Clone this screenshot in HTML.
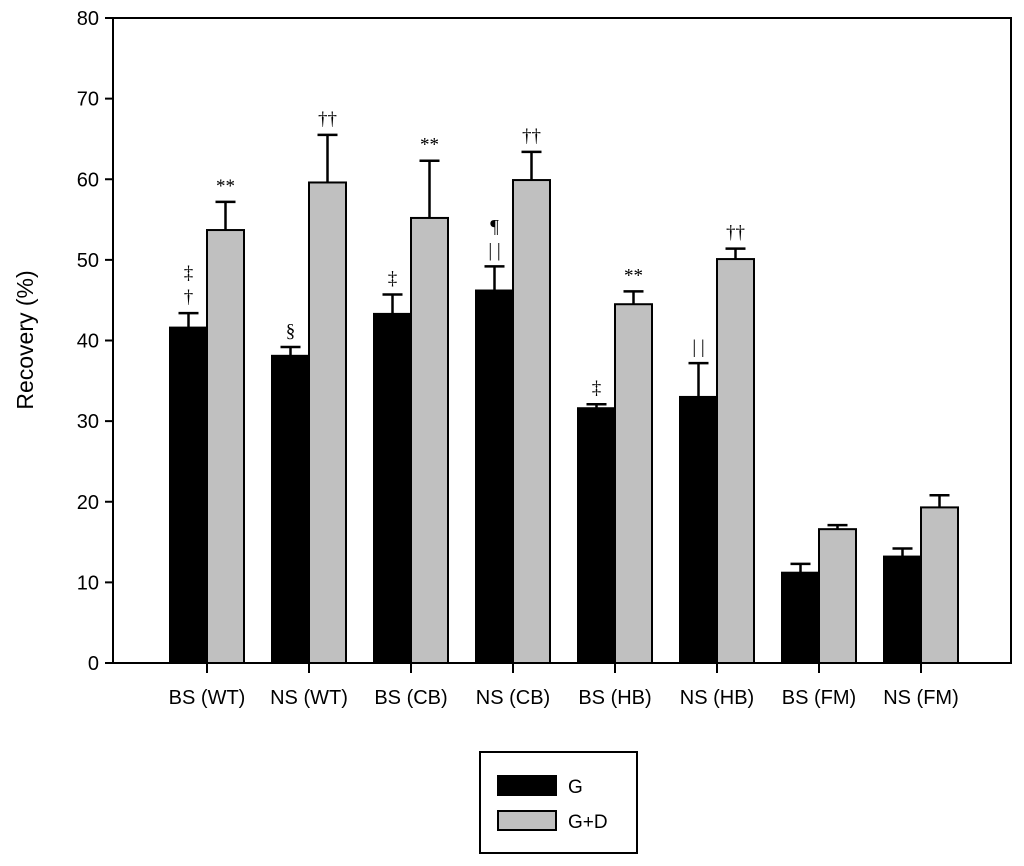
<!DOCTYPE html>
<html><head><meta charset="utf-8"><style>
body{margin:0;background:#fff}
svg{display:block;font-family:"Liberation Sans",Arial,sans-serif}
</style></head><body>
<svg id="chart" width="1024" height="866" viewBox="0 0 1024 866">
<g id="axes"></g><g id="bars"></g>
<text transform="translate(33,340) rotate(-90)" text-anchor="middle" font-size="23">Recovery (%)</text>
<g>
<rect x="480" y="752" width="157" height="101" fill="#fff" stroke="#000" stroke-width="2"/>
<rect x="498" y="776" width="58" height="19" fill="#000" stroke="#000" stroke-width="2"/>
<text x="568" y="793" font-size="19">G</text>
<rect x="498" y="811" width="58" height="19" fill="#c0c0c0" stroke="#000" stroke-width="2"/>
<text x="568" y="828" font-size="19">G+D</text>
</g>
</svg>
<script>
const categories=["BS (WT)","NS (WT)","BS (CB)","NS (CB)","BS (HB)","NS (HB)","BS (FM)","NS (FM)"];
const gValues=[41.6,38.1,43.3,46.2,31.6,33.0,11.2,13.2];
const gErrors=[1.8,1.1,2.4,3.0,0.5,4.2,1.1,1.0];
const gdValues=[53.7,59.6,55.2,59.9,44.5,50.1,16.6,19.3];
const gdErrors=[3.5,5.9,7.1,3.5,1.6,1.3,0.5,1.5];
const gMarks=["‡\n†","§","‡","¶\n| |","‡","| |","",""];
const gdMarks=["**","††","**","††","**","††","",""];
const yTicks=[0,10,20,30,40,50,60,70,80];
const NS="http://www.w3.org/2000/svg";
const L=113,R=1011,T=18,B=663;
const y=v=>B-(v/80)*(B-T);
const xc=i=>207+i*102;
const BW=37;
function mk(p,tag,a){const e=document.createElementNS(NS,tag);for(const k in a)e.setAttribute(k,a[k]);p.appendChild(e);return e;}
const ax=document.getElementById('axes'),bars=document.getElementById('bars');
const frame=mk(ax,'rect',{x:L,y:T,width:R-L,height:B-T,fill:'none',stroke:'#000','stroke-width':2});


yTicks.forEach(t=>{
 const ln=mk(ax,'line',{x1:L-8,x2:L,y1:y(t),y2:y(t),stroke:'#000','stroke-width':2});
 
 
 const tx=mk(ax,'text',{x:L-14,y:y(t)+7,'text-anchor':'end','font-size':20});
 tx.textContent=t;
 
 
});
categories.forEach((c,i)=>{
 const ln=mk(ax,'line',{x1:xc(i),x2:xc(i),y1:B,y2:B+10,stroke:'#000','stroke-width':2});
 
 
 const tx=mk(ax,'text',{x:xc(i),y:704,'text-anchor':'middle','font-size':20});
 tx.textContent=c;
 
 
 [[gValues,gErrors,'#000',xc(i)-BW,gMarks,'g'],[gdValues,gdErrors,'#c0c0c0',xc(i),gdMarks,'gd']].forEach(([vals,errs,fill,x0,marks,s])=>{
  const v=vals[i],e=errs[i],cx=x0+BW/2;
  const ew=mk(bars,'path',{d:`M${cx},${y(v)} V${y(v+e)} M${cx-10},${y(v+e)} H${cx+10}`,stroke:'#000','stroke-width':2.5,fill:'none'});
  
  
  const r=mk(bars,'rect',{x:x0,y:y(v),width:BW,height:B-y(v),fill:fill,stroke:'#000','stroke-width':2});
  
  
  const lines=marks[i]?marks[i].split('\n'):[];
  lines.forEach((m,k)=>{
   const t=mk(bars,'text',{x:cx,y:y(v+e)-10-(lines.length-1-k)*24,'text-anchor':'middle','font-size':19,'font-family':'Liberation Serif,serif'});
   t.textContent=m;
   
   
  });
 });
});
</script>
</body></html>
